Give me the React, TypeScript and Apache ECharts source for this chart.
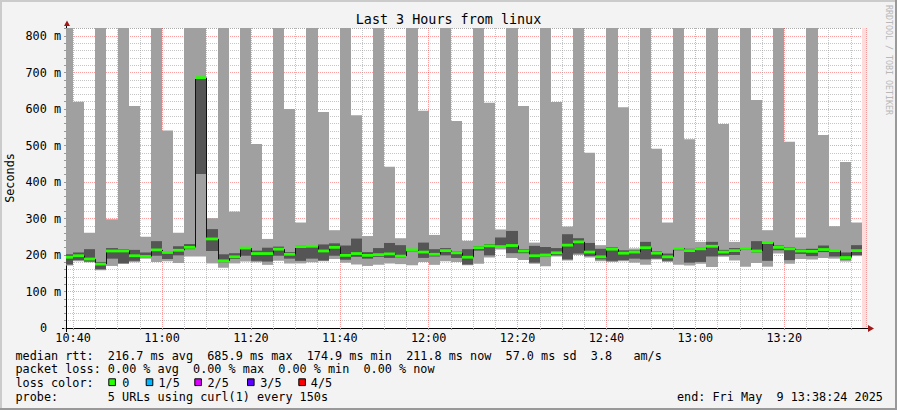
import React, { useEffect, useRef } from 'react';
import * as echarts from 'echarts';

const chartTitle = 'Last 3 Hours from linux';
const yAxisTitle = 'Seconds';
const watermark = 'RRDTOOL / TOBI OETIKER';

// time, in minutes since midnight
const windowStart = 638.4; // 10:38:24
const windowEnd = 818.4; // 13:38:24
const firstBarStart = 637.5; // 10:37:30
const barStep = 2.5; // 150 s per probe round
const unknownStart = 817.5; // 13:37:30, no data yet

// five sorted pings per round, milliseconds
const pingMin = [171, 183, 180, 158, 170, 176, 180, 190, 181, 183, 178, 196, 196, 177, 165, 177, 182, 180, 173, 184, 177, 177, 180, 183, 189, 179, 174, 170, 173, 177, 175, 172, 181, 173, 183, 181, 172, 176, 193, 215, 192, 186, 176, 169, 196, 185, 200, 193, 183, 181, 183, 179, 173, 188, 181, 173, 171, 176, 167, 195, 185, 168, 178, 168, 204, 176, 189, 188, 192, 190, 182, 197];
const ping2 = [174, 186, 182, 161, 190, 177, 184, 193, 198, 189, 199, 216, 422, 211, 180, 189, 198, 184, 182, 198, 190, 184, 190, 185, 198, 187, 195, 190, 195, 192, 193, 210, 192, 196, 199, 192, 174, 212, 199, 219, 205, 205, 179, 196, 199, 188, 204, 197, 188, 184, 186, 190, 188, 190, 184, 213, 179, 181, 196, 199, 200, 214, 207, 184, 213, 186, 203, 197, 208, 196, 188, 200];
const medianRtt = [194, 198, 189, 175, 211, 211, 198, 196, 214, 207, 213, 221, 686, 244, 184, 195, 219, 204, 204, 216, 202, 223, 224, 211, 221, 199, 204, 199, 201, 203, 197, 214, 208, 202, 212, 206, 194, 220, 225, 223, 226, 211, 198, 200, 206, 227, 236, 208, 195, 216, 205, 208, 220, 205, 195, 218, 212, 217, 224, 208, 212, 218, 211, 234, 221, 217, 211, 210, 215, 212, 193, 212];
const ping4 = [202, 207, 216, 181, 219, 216, 214, 207, 238, 211, 224, 230, 688, 271, 202, 205, 221, 212, 220, 223, 208, 226, 227, 229, 232, 226, 245, 208, 219, 233, 227, 216, 234, 216, 219, 210, 216, 224, 230, 248, 266, 216, 225, 222, 219, 257, 246, 233, 217, 221, 213, 213, 236, 210, 204, 220, 217, 220, 236, 214, 219, 221, 238, 236, 226, 222, 216, 217, 226, 214, 207, 227];
const pingMax = [1000, 620, 261, 1000, 298, 1000, 608, 250, 1000, 541, 261, 1000, 1000, 301, 1000, 319, 1000, 504, 244, 1000, 600, 289, 1000, 592, 268, 1000, 583, 252, 1000, 442, 246, 1000, 595, 255, 1000, 567, 239, 1000, 617, 270, 1000, 608, 234, 1000, 619, 278, 1000, 480, 227, 1000, 605, 218, 1000, 491, 289, 1000, 517, 236, 1000, 559, 236, 1000, 625, 268, 1000, 510, 248, 1000, 529, 279, 455, 289];

const legendRows = [
  'median rtt:  216.7 ms avg  685.9 ms max  174.9 ms min  211.8 ms now  57.0 ms sd  3.8   am/s',
  'packet loss: 0.00 % avg  0.00 % max  0.00 % min  0.00 % now',
  'loss color:',
  'probe:       5 URLs using curl(1) every 150s',
];
const lossLabels = ['0', '1/5', '2/5', '3/5', '4/5'];
const lossColors = ['#26ff00', '#00b8ff', '#dd00ff', '#5e00ff', '#ff0000'];
const endText = 'end: Fri May  9 13:38:24 2025';

const mono = 'DejaVu Sans Mono';
const fs = 11.8;

const fmtTime = (v: number) => {
  const m = Math.round(v * 1000) / 1000;
  if (Math.abs(m % 20) > 1e-6) return '';
  const h = Math.floor(m / 60);
  const mm = Math.round(m % 60);
  return `${h}:${String(mm).padStart(2, '0')}`;
};

export default function App() {
  const ref = useRef<HTMLDivElement>(null);
  useEffect(() => {
    document.body.style.margin = '0';
    const chart = echarts.init(ref.current!, null, { renderer: 'svg' });
    const smokeData = pingMin.map((v, i) => [
      firstBarStart + i * barStep,
      v,
      ping2[i],
      medianRtt[i],
      ping4[i],
      pingMax[i],
      i > 0 ? medianRtt[i - 1] : medianRtt[i],
    ]);

    const barEdges = (params: any, api: any) => {
      const cs = params.coordSys;
      const t = api.value(0) as number;
      const left = Math.round(Math.max(cs.x, api.coord([t, 0])[0]));
      const right = Math.round(Math.min(cs.x + cs.width, api.coord([t + barStep, 0])[0]));
      const yOf = (v: number) => Math.max(cs.y, Math.min(cs.y + cs.height, api.coord([t, v])[1]));
      return { left, right, yOf };
    };

    const gridGrey = 'rgba(150,150,150,0.55)';
    const gridRed = 'rgba(255,0,0,0.38)';

    const option: any = {
      animation: false,
      backgroundColor: '#f3f3f3',
      grid: {
        left: 66,
        right: 31,
        top: 28,
        bottom: 82,
        show: true,
        backgroundColor: '#ffffff',
        borderWidth: 0,
      },
      xAxis: {
        type: 'value',
        min: windowStart,
        max: windowEnd,
        splitNumber: 36,
        minInterval: 5,
        maxInterval: 5,
        axisLine: { show: true, lineStyle: { color: '#000', width: 1 } },
        axisTick: { show: true, length: 2, lineStyle: { color: '#999' } },
        axisLabel: {
          interval: 0,
          margin: 4,
          formatter: fmtTime,
          fontFamily: mono,
          fontSize: fs,
          color: '#000',
          showMinLabel: false,
          showMaxLabel: false,
        },
        splitLine: {
          show: true,
          lineStyle: { color: [gridGrey, gridRed, gridGrey, gridGrey], type: 'dotted', width: 1 },
        },
      },
      yAxis: {
        type: 'value',
        min: 0,
        max: 822,
        splitNumber: 41,
        minInterval: 20,
        maxInterval: 20,
        axisLine: { show: true, lineStyle: { color: '#000', width: 1 } },
        axisTick: { show: true, length: 2, lineStyle: { color: '#999' } },
        axisLabel: {
          margin: 5,
          fontFamily: mono,
          fontSize: fs,
          color: '#000',
          formatter: (v: number) =>
            v % 100 !== 0 || v > 800 ? '' : v === 0 ? '{z|0}' : `${v} m`,
          rich: { z: { padding: [0, 14, 0, 0], fontFamily: mono, fontSize: fs, color: '#000' } },
        },
        splitLine: {
          show: true,
          lineStyle: { color: [gridRed, gridGrey, gridGrey, gridGrey, gridGrey], type: 'dotted', width: 1 },
        },
      },
      series: [
        {
          type: 'custom',
          name: 'smoke',
          data: smokeData,
          encode: { x: 0, y: 1 },
          renderItem: (params: any, api: any) => {
            const { left, right, yOf } = barEdges(params, api);
            const yMin = yOf(api.value(1));
            const y2 = yOf(api.value(2));
            const y4 = yOf(api.value(4));
            const yMax = yOf(api.value(5));
            return {
              type: 'group',
              children: [
                { type: 'rect', shape: { x: left, y: yMax, width: right - left, height: yMin - yMax }, style: { fill: '#a0a0a0' } },
                { type: 'rect', shape: { x: left, y: y4, width: right - left, height: y2 - y4 }, style: { fill: '#555555' } },
              ],
            };
          },
          markArea: {
            silent: true,
            itemStyle: { color: '#ffdcdc' },
            data: [[{ xAxis: unknownStart }, { xAxis: windowEnd }]],
          },
          z: 2,
        },
        {
          type: 'custom',
          name: 'median',
          data: smokeData,
          encode: { x: 0, y: 3 },
          renderItem: (params: any, api: any) => {
            const { left, right, yOf } = barEdges(params, api);
            const yMed = yOf(api.value(3));
            const yPrev = yOf(api.value(6));
            return {
              type: 'group',
              children: [
                {
                  type: 'polyline',
                  shape: { points: [[left + 0.5, yPrev], [left + 0.5, yMed], [right, yMed]] },
                  style: { stroke: '#111', lineWidth: 1, fill: null },
                },
                { type: 'rect', shape: { x: left, y: yMed - 1.4, width: right - left, height: 2.8 }, style: { fill: '#26ff00' } },
              ],
            };
          },
          z: 3,
        },
      ],
      graphic: [
        { type: 'rect', shape: { x: 0, y: 0, width: 897, height: 2 }, style: { fill: '#cbcbcb' } },
        { type: 'rect', shape: { x: 0, y: 0, width: 2, height: 410 }, style: { fill: '#cbcbcb' } },
        { type: 'rect', shape: { x: 0, y: 408, width: 897, height: 2 }, style: { fill: '#999999' } },
        { type: 'rect', shape: { x: 895, y: 0, width: 2, height: 410 }, style: { fill: '#999999' } },
        { type: 'line', shape: { x1: 66.5, y1: 23, x2: 66.5, y2: 28 }, style: { stroke: '#000', lineWidth: 1 } },
        { type: 'line', shape: { x1: 66.5, y1: 328, x2: 66.5, y2: 332 }, style: { stroke: '#000', lineWidth: 1 } },
        { type: 'line', shape: { x1: 62, y1: 328.5, x2: 66, y2: 328.5 }, style: { stroke: '#000', lineWidth: 1 } },
        { type: 'line', shape: { x1: 866, y1: 328.5, x2: 869, y2: 328.5 }, style: { stroke: '#000', lineWidth: 1 } },
        { type: 'polygon', shape: { points: [[64, 26], [70, 26], [67, 20.5]] }, style: { fill: '#a01818' } },
        { type: 'polygon', shape: { points: [[868, 325], [868, 332], [874, 328.5]] }, style: { fill: '#a01818' } },
        {
          type: 'text', x: 448.5, y: 19,
          style: { text: chartTitle, fontFamily: mono, fontSize: 13.4, fill: '#000', align: 'center', verticalAlign: 'middle' },
        },
        {
          type: 'text', x: 10, y: 178, rotation: Math.PI / 2,
          style: { text: yAxisTitle, fontFamily: mono, fontSize: fs, fill: '#000', align: 'center', verticalAlign: 'middle' },
        },
        {
          type: 'text', x: 888.5, y: 60, rotation: -Math.PI / 2,
          style: { text: watermark, fontFamily: mono, fontSize: 8.3, fill: '#b8b8b8', align: 'center', verticalAlign: 'middle' },
        },
        ...legendRows.map((row, i) => ({
          type: 'text', x: 15.5, y: [355.8, 369.3, 383, 396.7][i],
          style: { text: row, fontFamily: mono, fontSize: fs, fill: '#000', align: 'left', verticalAlign: 'middle' },
        })),
        ...lossColors.map((c, i) => ({
          type: 'rect',
          shape: { x: [108.8, 146.2, 194.8, 247.5, 298.8][i], y: 378.8, width: 6.6, height: 6.8 },
          style: { fill: c, stroke: '#000', lineWidth: 1 },
        })),
        ...lossLabels.map((l, i) => ({
          type: 'text', x: [122.3, 158.5, 207.5, 260.2, 310.8][i], y: 383,
          style: { text: l, fontFamily: mono, fontSize: fs, fill: '#000', align: 'left', verticalAlign: 'middle' },
        })),
        {
          type: 'text', x: 677, y: 396.7,
          style: { text: endText, fontFamily: mono, fontSize: fs, fill: '#000', align: 'left', verticalAlign: 'middle' },
        },
      ],
    };
    chart.setOption(option);
    return () => chart.dispose();
  }, []);
  return <div ref={ref} style={{ position: 'fixed', left: 0, top: 0, width: 897, height: 410 }} />;
}
